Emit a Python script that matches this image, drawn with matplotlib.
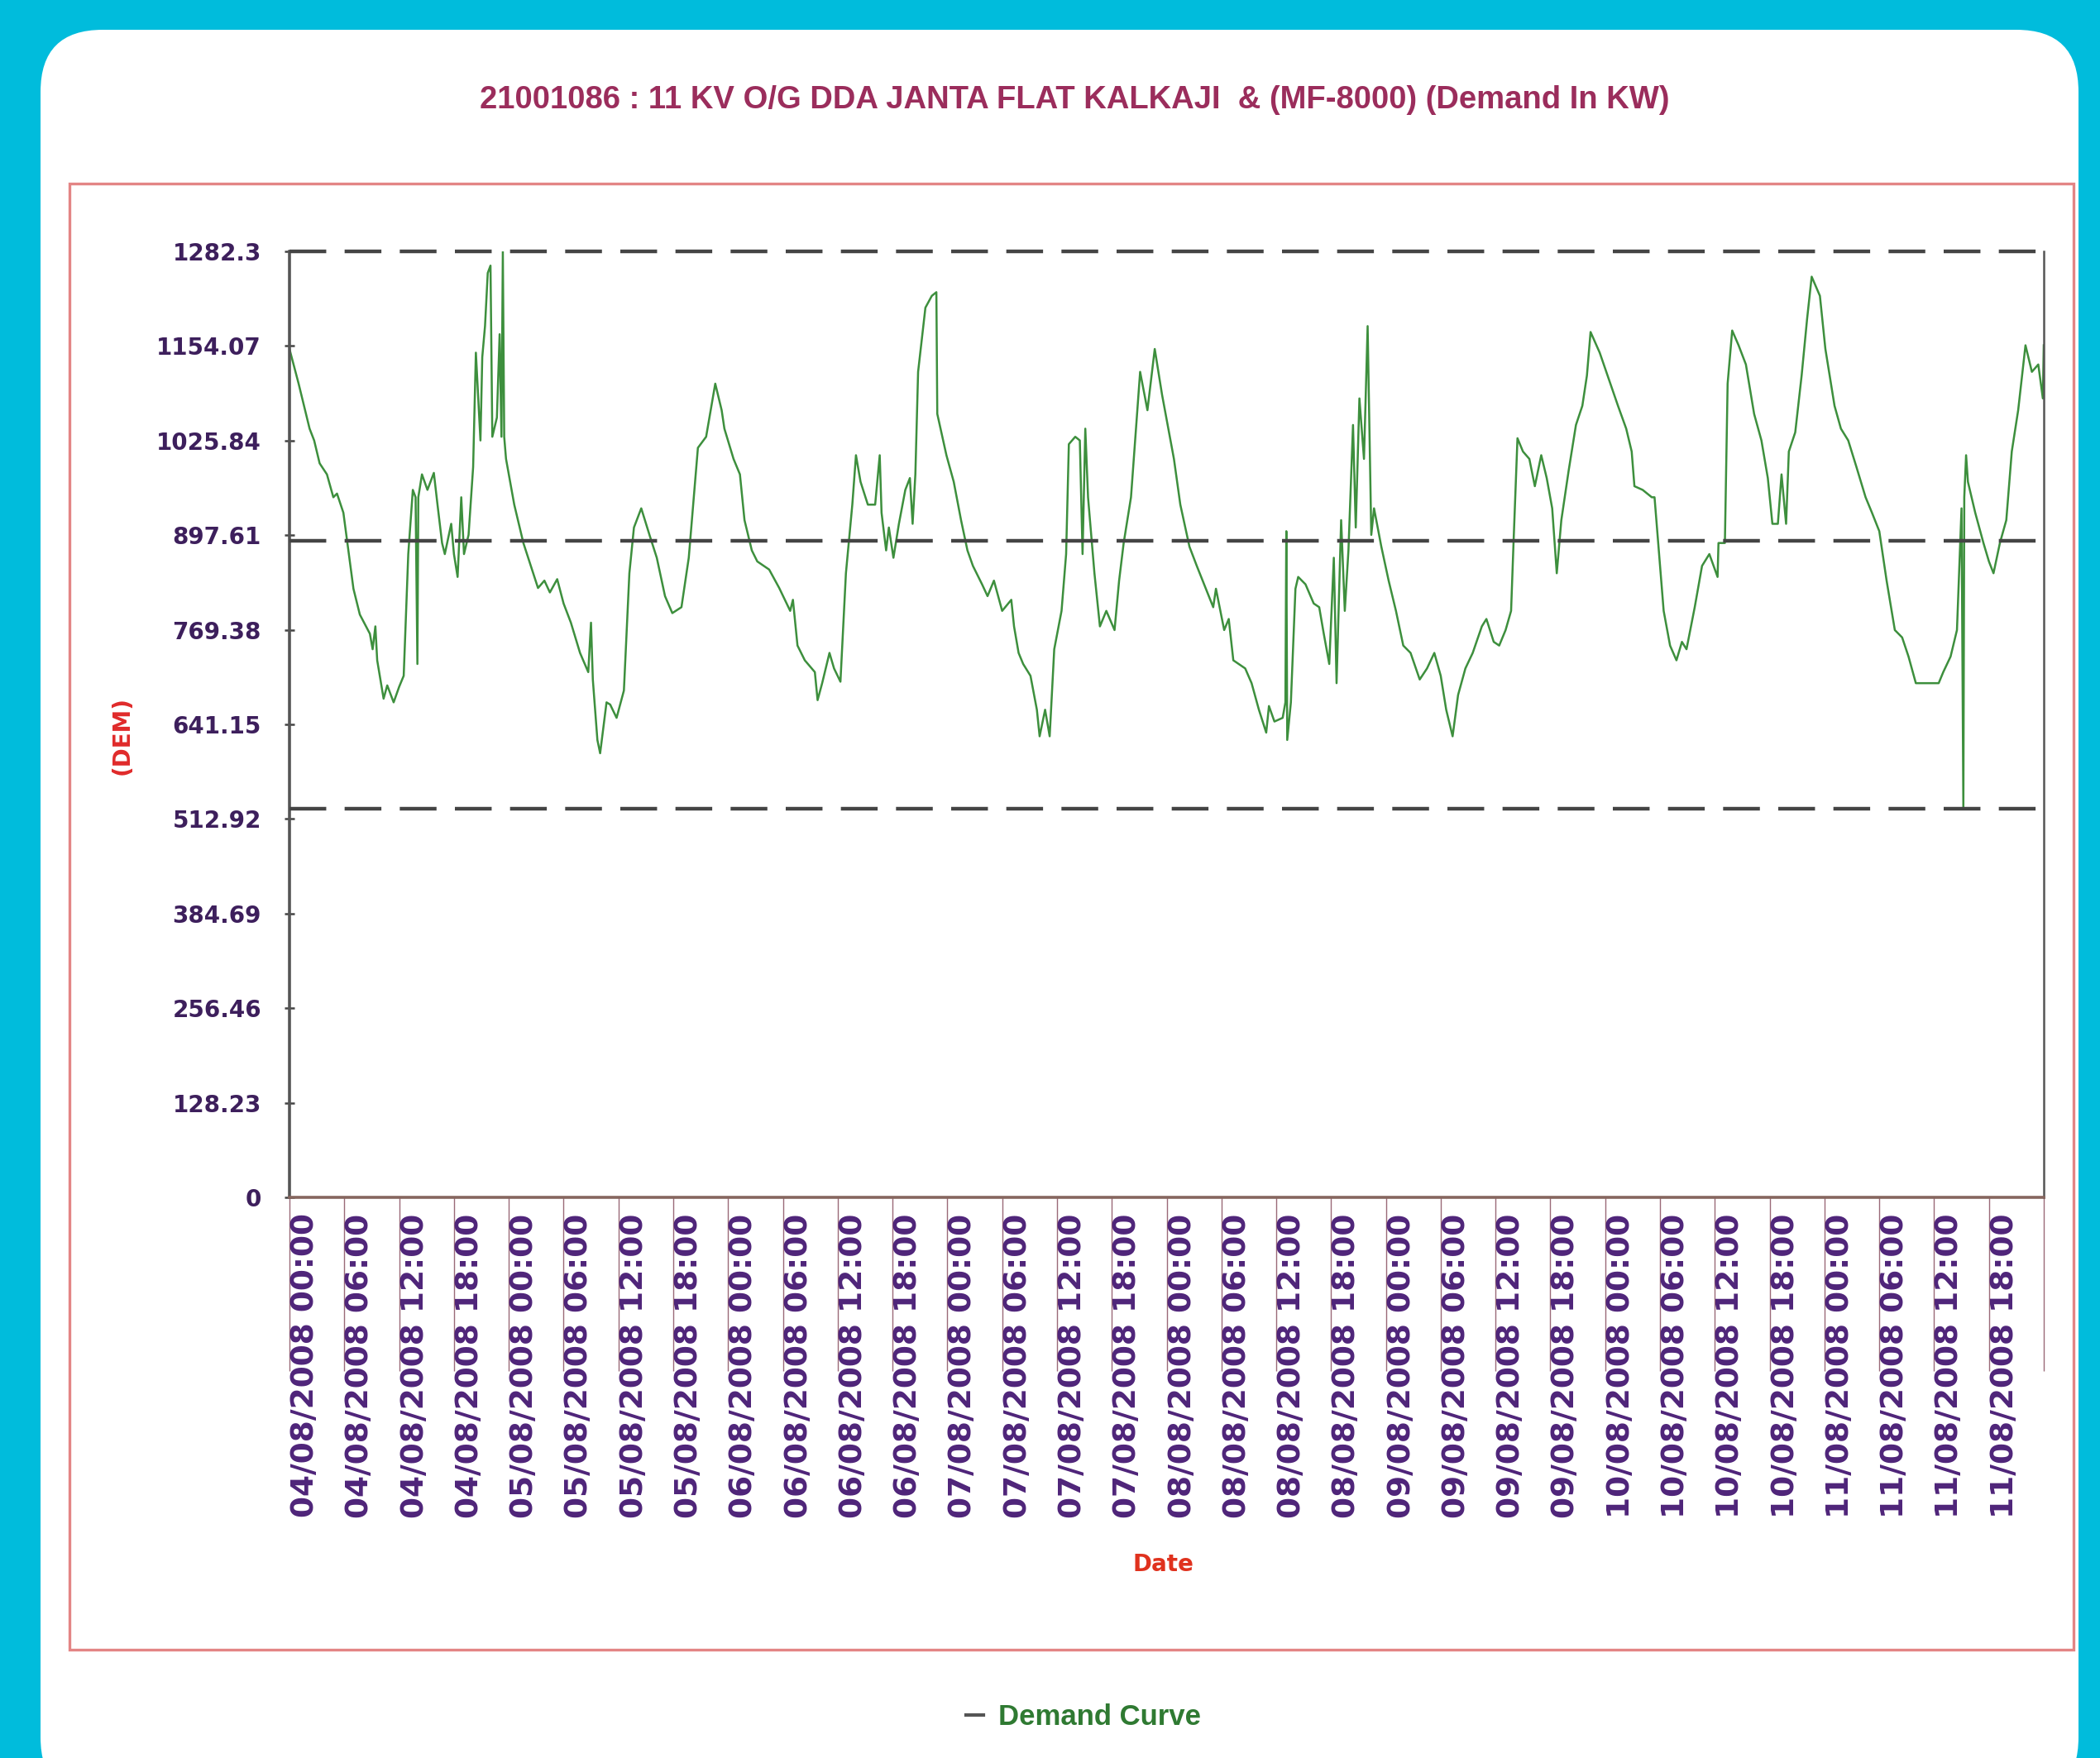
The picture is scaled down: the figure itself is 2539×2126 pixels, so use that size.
import matplotlib
matplotlib.use("Agg")
import matplotlib.pyplot as plt
import matplotlib.dates as mdates
import matplotlib.patches as mpatches
import matplotlib.transforms as mtransforms
import numpy as np


# Tiêu đề và dữ liệu
title = "21001086 : 11 KV O/G DDA JANTA FLAT KALKAJI  & (MF-8000) (Demand In KW)"
start = np.datetime64("2008-08-04T00:00")
end = np.datetime64("2008-08-12T00:00")

# giờ tính từ 04/08/2008 00:00 và công suất (KW)
hours = [
    0.0, 1.0, 2.2, 2.7, 3.3, 4.1, 4.8, 5.2, 5.9, 6.5, 7.0, 7.7, 8.8, 9.1, 9.4, 9.6,
    10.3, 10.7, 11.4, 12.0, 12.5, 13.0, 13.5, 13.8, 14.0, 14.1, 14.5, 15.1, 15.8,
    16.2, 16.7, 17.0, 17.7, 18.0, 18.4, 18.8, 19.1, 19.6, 20.1, 20.4, 20.9, 21.1,
    21.4, 21.7, 22.0, 22.2, 22.7, 23.0, 23.2, 23.35, 23.5, 23.7, 24.6, 25.6, 27.2,
    27.9, 28.5, 29.3, 30.0, 30.8, 31.8, 32.7, 33.0, 33.2, 33.7, 34.0, 34.7, 35.1,
    35.8, 36.6, 37.2, 37.7, 38.5, 39.4, 40.2, 41.1, 41.9, 42.9, 43.7, 44.7, 45.6,
    46.6, 47.3, 47.6, 48.6,
    49.3, 49.8, 50.6, 51.2, 52.5, 53.6, 54.8, 55.1, 55.6, 56.4, 57.5, 57.8, 58.3,
    59.1, 59.6, 60.3, 60.9, 61.6, 62.0, 62.5, 63.3, 64.1, 64.6, 64.8, 65.3, 65.6,
    66.1, 66.7, 67.4, 67.9, 68.2, 68.5, 68.8, 69.6, 70.3, 70.8, 70.9, 71.9, 72.7,
    73.5, 74.2, 74.8, 75.8, 76.4, 77.1, 78.0, 79.0, 79.3, 79.8, 80.3, 81.1, 81.8,
    82.1, 82.7, 83.2, 83.7, 84.5, 85.0, 85.3, 86.0, 86.5, 86.8, 87.1, 87.4, 88.1,
    88.7, 89.4, 90.3, 90.8, 91.3, 92.1, 93.1, 93.9, 94.7, 95.5, 96.8,
    97.5, 98.5, 99.3, 100.1, 101.1, 101.4, 102.3, 102.8, 103.3, 104.6, 105.3, 106.1,
    106.9, 107.2, 107.8, 108.7, 109.0, 109.1, 109.2, 109.6, 110.1, 110.4, 111.2,
    112.1, 112.7, 113.2, 113.8, 114.3, 114.6, 115.1, 115.5, 115.9, 116.4, 116.7,
    117.1, 117.6, 118.0, 118.4, 118.7, 119.5, 120.3, 121.1, 121.9, 122.7, 123.7,
    124.5, 125.3, 126.0, 126.6, 127.3, 127.9, 128.7, 129.5, 130.5, 131.0, 131.8,
    132.4, 133.1, 133.7, 134.0, 134.4, 135.0, 135.7, 136.3, 137.0, 137.6, 138.2,
    138.7, 139.2, 140.0, 140.8, 141.5, 142.0, 142.4, 143.4, 144.4, 145.4, 146.3,
    146.9, 147.2, 148.1, 149.1, 149.4, 149.9, 150.4, 151.1, 151.8, 152.4, 152.9,
    153.8, 154.6, 155.4, 156.3, 156.4, 157.1, 157.4, 157.9, 158.6, 159.4, 160.3,
    161.1, 161.8, 162.3, 162.9, 163.3, 163.8, 164.1, 164.8, 165.5, 166.1, 166.6,
    167.5, 168.1, 169.1, 169.8, 170.6, 171.5, 172.5, 173.2, 174.0, 174.8, 175.7,
    176.5, 177.2, 178.0, 179.2, 180.5, 181.0, 181.8, 182.5, 183.0, 183.2, 183.3,
    183.5, 183.7, 184.5, 185.4, 186.0, 186.5, 187.2, 187.9, 188.5, 189.2, 190.0,
    190.7, 191.4, 191.9, 192.0,
]
demand = [
    1150, 1103, 1042, 1026, 995, 980, 949, 954, 928, 872, 825, 790, 764, 743, 774, 728,
    676, 694, 671, 692, 707, 872, 959, 949, 723, 949, 980, 959, 982,
    939, 887, 872, 913, 872, 841, 949, 872, 898, 990, 1145, 1026, 1139,
    1181, 1253, 1263, 1031, 1057, 1170, 1031, 1282, 1031, 1001, 939, 887, 826,
    836, 820, 838, 805, 779, 738, 712, 779, 702, 620, 602, 671, 668,
    650, 687, 846, 908, 934, 898, 867, 815, 792, 800, 867, 1016, 1031,
    1103, 1067, 1042, 1001,
    980, 918, 877, 862, 851, 826, 795, 810, 748, 728, 712, 674, 697,
    738, 717, 699, 846, 939, 1006, 970, 939, 939, 1006, 928, 877, 908,
    867, 913, 959, 975, 913, 980, 1119, 1206, 1222, 1227, 1062, 1006, 970,
    918, 877, 856, 831, 815, 836, 795, 810, 774, 738, 723, 707, 661,
    625, 661, 625, 743, 795, 872, 1021, 1031, 1026, 872, 1042, 949, 846,
    774, 795, 769, 836, 887, 949, 1119, 1067, 1150, 1088, 1001,
    939, 882, 856, 831, 800, 825, 769, 784, 728, 717, 697, 661,
    630, 666, 645, 650, 671, 903, 620, 671, 825, 841, 831,
    805, 800, 764, 723, 867, 697, 918, 795, 877, 1047, 908,
    1083, 1001, 1181, 898, 934, 882, 836, 795, 748, 738, 702,
    717, 738, 707, 661, 625, 681, 717, 738, 774, 784, 753,
    748, 769, 795, 898, 1029, 1011, 1001, 964, 1006, 975, 934,
    846, 918, 985, 1047, 1073, 1114, 1173, 1145, 1109, 1073, 1042,
    1011, 964, 959, 949, 949, 872, 795, 748, 728, 753, 743,
    800, 856, 872, 841, 887, 887, 1103, 1175, 1155, 1129, 1062,
    1026, 975, 913, 913, 980, 913, 1011, 1037, 1114, 1191, 1248,
    1222, 1150, 1073, 1042, 1026, 990, 949, 928, 903, 836, 769,
    759, 733, 697, 697, 697, 712, 733, 769, 934, 527, 949,
    1006, 970, 928, 887, 862, 846, 887, 918, 1011, 1067, 1155,
    1119, 1129, 1083, 1155,
]

y_ticks = [0, 128.23, 256.46, 384.69, 512.92, 641.15, 769.38, 897.61, 1025.84, 1154.07, 1282.3]
y_tick_labels = ["0", "128.23", "256.46", "384.69", "512.92", "641.15",
                 "769.38", "897.61", "1025.84", "1154.07", "1282.3"]

# đường tham chiếu: max, trung bình, min
max_line = 1282.3
avg_line = 890
min_line = 527

times = start + (np.array(hours) * 60).round().astype("timedelta64[m]")

W, H = 2539, 2126
fig = plt.figure(figsize=(W / 100, H / 100), dpi=100, facecolor="#00bcdc")

# khung trắng bo góc và viền hồng
panel = mpatches.FancyBboxPatch((49, -50), 2464, 2140,
                                boxstyle="round,pad=0,rounding_size=75",
                                transform=mtransforms.IdentityTransform(),
                                facecolor="white", edgecolor="none", zorder=-3)
fig.add_artist(panel)
frame = mpatches.Rectangle((84, 131), 2423, 1773,
                           transform=mtransforms.IdentityTransform(),
                           facecolor="none", edgecolor="#e38585", linewidth=2.4, zorder=-2)
fig.add_artist(frame)

ax = fig.add_axes([350 / W, 1 - 1448 / H, 2121 / W, 1144 / H])
ax.set_facecolor("white")

line, = ax.plot(times, demand, color="#3d8f3d", linewidth=1.8, zorder=2)

dash = dict(color="#444444", linewidth=3.2, dashes=(10, 5), zorder=3, clip_on=False)
for v in (max_line, avg_line, min_line):
    ax.axhline(v, **dash)

ax.set_xlim(start, end)
ax.set_ylim(0, max_line)

# trục y
ax.set_yticks(y_ticks)
ax.set_yticklabels(y_tick_labels)
ax.tick_params(axis="y", direction="inout", length=9, width=1.8, color="#444444",
               pad=20, labelsize=20, labelcolor="#3d1f5c")
for lab in ax.get_yticklabels():
    lab.set_fontweight("bold")

# trục x: nhãn mỗi 6 giờ, dọc
fmt = mdates.DateFormatter("%d/%m/%Y %H:%M")
end_num = mdates.date2num(end)
ax.xaxis.set_major_locator(mdates.HourLocator(byhour=[0, 6, 12, 18]))
ax.xaxis.set_major_formatter(
    plt.FuncFormatter(lambda v, p: "" if v >= end_num - 1e-6 else fmt(v, p)))
ax.tick_params(axis="x", direction="out", length=151, width=1.0, color="#9a6a78",
               pad=-137, labelsize=27, labelcolor="#4e2479", labelrotation=90)
offset = mtransforms.ScaledTranslation(0.19, 0, fig.dpi_scale_trans)
for lab in ax.get_xticklabels():
    lab.set_fontweight("bold")
    lab.set_transform(lab.get_transform() + offset)

ax.spines["top"].set_visible(False)
ax.spines["left"].set_color("#555555")
ax.spines["left"].set_linewidth(2.6)
ax.spines["bottom"].set_color("#86665e")
ax.spines["bottom"].set_linewidth(2.6)
ax.spines["right"].set_color("#555555")
ax.spines["right"].set_linewidth(1.8)

ax.set_ylabel("(DEM)", color="#e02a2a", fontsize=20, fontweight="bold")
ax.yaxis.set_label_coords(-0.0886, 0.488)
ax.set_xlabel("Date", color="#e0321e", fontsize=20, fontweight="bold")
ax.xaxis.set_label_coords(0.498, -0.376)

fig.text(1299 / W, 1 - 121 / H, title, ha="center", va="center",
         fontsize=27.5, fontweight="bold", color="#9b2d5c",
         family=["Liberation Sans", "DejaVu Sans"])

leg = ax.legend([line], ["Demand Curve"], loc="center",
                bbox_to_anchor=(1310 / W, 1 - 2077 / H), bbox_transform=fig.transFigure,
                frameon=False, handlelength=0.6, handletextpad=0.5,
                prop={"family": ["Liberation Sans", "DejaVu Sans"],
                      "weight": "bold", "size": 25})
leg.get_lines()[0].set_color("#555555")
leg.get_lines()[0].set_linewidth(3)
for t in leg.get_texts():
    t.set_color("#2f7a32")

fig.savefig("out.png", dpi=100, facecolor=fig.get_facecolor())
